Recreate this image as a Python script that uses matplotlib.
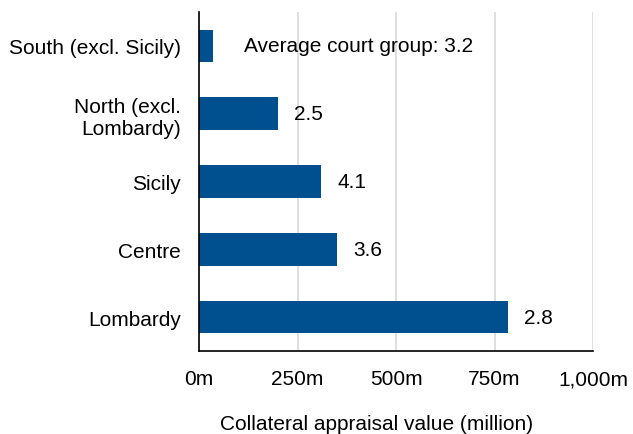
import matplotlib
matplotlib.use("Agg")
import matplotlib.pyplot as plt
from matplotlib.ticker import FuncFormatter

plt.rcParams['font.family'] = ['Liberation Sans', 'DejaVu Sans']

categories = ["South (excl. Sicily)", "North (excl.\nLombardy)", "Sicily", "Centre", "Lombardy"]
values = [36, 200, 310, 350, 784]
labels = ["Average court group: 3.2", "2.5", "4.1", "3.6", "2.8"]
xticks = [0, 250, 500, 750, 1000]

FS = 15

fig = plt.figure(figsize=(6.33, 4.35), dpi=100)
ax = fig.add_axes([199/633, 1-352/435, (593-199)/633, (352-13)/435])

ypos = list(range(len(categories)))
color = "#004F8F"
ax.barh(ypos, values, height=0.48, color=color, zorder=3)
ax.set_ylim(len(categories)-0.5, -0.5)
ax.set_xlim(0, 1000)
ax.set_yticks(ypos)
ax.set_yticklabels(categories, fontsize=FS)
ax.set_xticks(xticks)
ax.xaxis.set_major_formatter(FuncFormatter(lambda v, p: f"{int(v):,}m"))
ax.tick_params(axis='x', labelsize=FS, length=0, pad=13)
ax.tick_params(axis='y', length=0, pad=13)
for lab in ax.get_yticklabels():
    lab.set_multialignment('right')

ax.grid(axis='x', color='#d9d9d9', linewidth=1.2, zorder=0)
for s in ['top', 'right']:
    ax.spines[s].set_visible(False)
ax.spines['left'].set_color('black')
ax.spines['left'].set_linewidth(1.2)
ax.spines['bottom'].set_color('black')
ax.spines['bottom'].set_linewidth(1.2)
ax.spines['left'].set_zorder(4)

for i, (v, t) in enumerate(zip(values, labels)):
    off = 22 if i == 0 else 11.5
    ax.annotate(t, xy=(v, i), xytext=(off, 0), textcoords='offset points',
                va='center', ha='left', fontsize=FS, color='black')

fig.text(377/633, 1-425/435, "Collateral appraisal value (million)", ha='center', va='center', fontsize=FS)

fig.savefig("out.png", dpi=100)
